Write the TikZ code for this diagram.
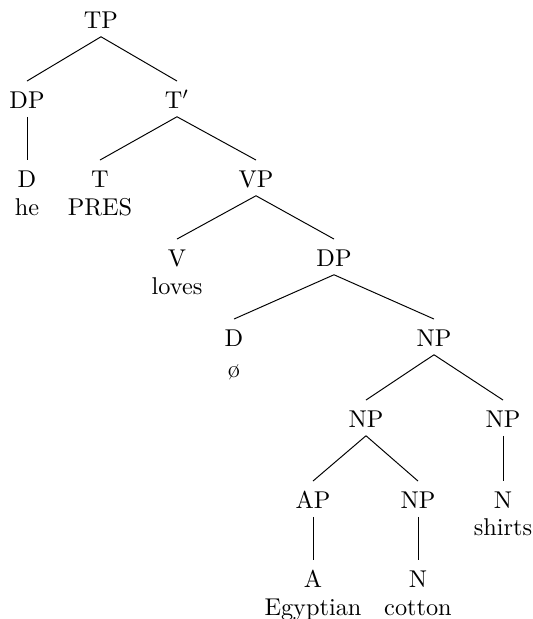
\documentclass[tikz,border=0pt]{standalone}
\begin{document}
\begin{tikzpicture}[x=0.4115pt,y=-0.4115pt,
  cat/.style={anchor=base, inner xsep=0pt, inner ysep=3.4pt, text height=7.5pt, text depth=0pt},
  word/.style={anchor=base, inner sep=0pt},
  edge/.style={draw, line width=0.4pt}]
\useasboundingbox (0,0) rectangle (533,619);
\node[cat] (tp) at (101,28) {TP};
\node[cat] (dp1) at (27,108) {DP};
\node[cat] (tbar) at (177,108) {T$'$};
\node[cat] (d1) at (27,187) {D};
\node[word] (he) at (27,215) {he};
\node[cat] (t) at (100,187) {T};
\node[word] (pres) at (100,215) {PRES};
\node[cat] (vp) at (256,187) {VP};
\node[cat] (v) at (177,266) {V};
\node[word] (loves) at (177,294) {loves};
\node[cat] (dp2) at (334,266) {DP};
\node[cat] (d2) at (234,346) {D};
\node[word] (null) at (234,377) {ø};
\node[cat] (np1) at (434,346) {NP};
\node[cat] (np2) at (366,427) {NP};
\node[cat] (np3) at (503,427) {NP};
\node[cat] (ap) at (313,508) {AP};
\node[cat] (np4) at (418,508) {NP};
\node[cat] (n1) at (503,508) {N};
\node[word] (shirts) at (503,535) {shirts};
\node[cat] (a) at (313,587) {A};
\node[word] (egy) at (313,615) {Egyptian};
\node[cat] (n2) at (418,587) {N};
\node[word] (cotton) at (418,615) {cotton};
\path[edge] (tp.south) -- (dp1.north);
\path[edge] (tp.south) -- (tbar.north);
\path[edge] (dp1.south) -- (d1.north);
\path[edge] (tbar.south) -- (t.north);
\path[edge] (tbar.south) -- (vp.north);
\path[edge] (vp.south) -- (v.north);
\path[edge] (vp.south) -- (dp2.north);
\path[edge] (dp2.south) -- (d2.north);
\path[edge] (dp2.south) -- (np1.north);
\path[edge] (np1.south) -- (np2.north);
\path[edge] (np1.south) -- (np3.north);
\path[edge] (np2.south) -- (ap.north);
\path[edge] (np2.south) -- (np4.north);
\path[edge] (np3.south) -- (n1.north);
\path[edge] (ap.south) -- (a.north);
\path[edge] (np4.south) -- (n2.north);
\end{tikzpicture}
\end{document}
